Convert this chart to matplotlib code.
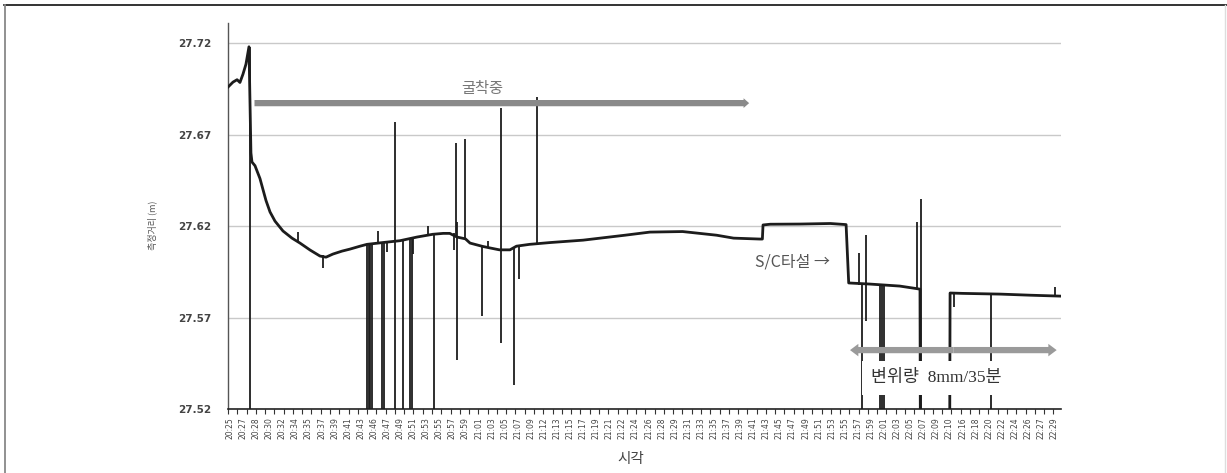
import numpy as np
import matplotlib
matplotlib.use("Agg")
import matplotlib.pyplot as plt
from matplotlib.lines import Line2D

plt.rcParams['font.family'] = ['Noto Sans CJK KR', 'DejaVu Sans']

# ---------------- data ----------------
time_labels = ["20:25", "20:27", "20:28", "20:30", "20:32", "20:34", "20:35", "20:37", "20:39", "20:41",
               "20:43", "20:46", "20:47", "20:49", "20:51", "20:53", "20:55", "20:57", "20:59", "21:01",
               "21:03", "21:05", "21:07", "21:09", "21:12", "21:13", "21:15", "21:17", "21:19", "21:21",
               "21:22", "21:24", "21:26", "21:28", "21:29", "21:31", "21:33", "21:35", "21:37", "21:39",
               "21:41", "21:43", "21:45", "21:47", "21:49", "21:51", "21:53", "21:55", "21:57", "21:59",
               "22:01", "22:03", "22:05", "22:07", "22:09", "22:10", "22:16", "22:18", "22:20", "22:22",
               "22:24", "22:26", "22:27", "22:29"]

# measured distance trend (x in category-index units)
trend_x = [-0.15, 0.23, 0.54, 0.76, 0.99, 1.22, 1.45, 1.6, 1.68, 1.91, 2.29, 2.75, 3.06, 3.44, 4.05,
           4.74, 5.35, 6.12, 6.88, 7.34, 7.87, 8.56, 9.17, 9.94, 10.47, 11.7, 13.0, 14.3, 15.5, 16.3,
           16.8, 17.35, 18.0, 18.35, 19.3, 19.9, 20.6, 21.4, 21.9, 22.9, 24.5, 27.0, 28.3, 30.2, 32.1,
           34.6, 35.9, 37.2, 38.5, 40.5, 40.7, 40.75, 41.3, 43.6, 45.9, 47.1, 47.3, 48.9, 51.2, 52.5,
           52.75, 52.8, 55.0, 55.05, 56.0, 58.9, 61.2, 63.5]
trend_y = [27.696, 27.6987, 27.700, 27.6985, 27.703, 27.7085, 27.718, 27.660, 27.655, 27.653,
           27.646, 27.634, 27.6277, 27.6227, 27.6173, 27.6134, 27.6107, 27.6069, 27.6036, 27.603,
           27.6047, 27.6063, 27.6074, 27.609, 27.610, 27.611, 27.612, 27.614, 27.6155, 27.616,
           27.616, 27.614, 27.613, 27.6107, 27.6089, 27.608, 27.607, 27.607, 27.609, 27.610,
           27.611, 27.6123, 27.6134, 27.615, 27.6167, 27.617, 27.616, 27.615, 27.6134, 27.6129,
           27.6129, 27.6206, 27.621, 27.6211, 27.6214, 27.6208, 27.5889, 27.5883, 27.5872, 27.5858,
           27.5855, 27.45, 27.45, 27.5834, 27.5832, 27.5828, 27.5822, 27.5817]

# spikes (x, lower value, upper value); 27.45 = below the plotted range
spike_x = [1.53, 1.6, 5.18, 7.09, 10.47, 10.6, 10.7, 10.85, 11.3, 11.6, 11.8, 11.98, 12.6, 13.2,
           13.75, 13.9, 14.0, 15.1, 15.6, 17.1, 17.25, 17.35, 18.0, 19.3, 19.7, 20.7, 21.7, 22.1,
           23.45, 48.1, 48.3, 48.6, 49.7, 49.85, 50.0, 52.5, 52.8, 55.05, 55.35, 58.2, 63.1]
spike_lo = [27.45, 27.655, 27.611, 27.597, 27.45, 27.45, 27.45, 27.45, 27.611, 27.45, 27.45, 27.606,
            27.45, 27.45, 27.45, 27.45, 27.605, 27.615, 27.45, 27.607, 27.614, 27.547, 27.613, 27.571,
            27.608, 27.556, 27.533, 27.591, 27.610, 27.588, 27.45, 27.568, 27.45, 27.45, 27.45,
            27.586, 27.45, 27.45, 27.576, 27.45, 27.581]
spike_hi = [27.718, 27.666, 27.617, 27.604, 27.610, 27.610, 27.610, 27.610, 27.6175, 27.611, 27.611,
            27.611, 27.677, 27.612, 27.613, 27.613, 27.613, 27.620, 27.6155, 27.616, 27.6655, 27.622,
            27.6675, 27.609, 27.612, 27.6847, 27.608, 27.609, 27.6907, 27.6054, 27.589, 27.615,
            27.588, 27.588, 27.588, 27.622, 27.635, 27.584, 27.584, 27.583, 27.5867]

y_ticks = [27.52, 27.57, 27.62, 27.67, 27.72]

# ---------------- figure ----------------
fig = plt.figure(figsize=(12.27, 4.73), dpi=100)
ax = fig.add_axes([228 / 1227, 64 / 473, 833 / 1227, 386 / 473])

ax.set_xlim(-0.153, 63.53)
ax.set_ylim(27.52, 27.731)

ax.yaxis.grid(True, color='#c9c9c9', lw=1.0)
ax.set_axisbelow(True)

ax.plot(trend_x, trend_y, color='#1c1c1c', lw=2.0, solid_joinstyle='round', zorder=3)
ax.vlines(spike_x, spike_lo, spike_hi, color='#1c1c1c', lw=1.3, zorder=3)

for s in ['top', 'right']:
    ax.spines[s].set_visible(False)
ax.spines['left'].set_color('#555555')
ax.spines['bottom'].set_color('#222222')
ax.spines['left'].set_linewidth(1.0)
ax.spines['bottom'].set_linewidth(1.2)

ax.set_yticks(y_ticks)
ax.set_yticklabels([f"{v:.2f}" for v in y_ticks], fontsize=7.5, color='#444444',
                   fontweight='bold', family=['DejaVu Sans'])
ax.tick_params(axis='y', length=0, pad=12)

ax.set_xticks(np.arange(len(time_labels)))
ax.set_xticklabels(time_labels, rotation=90, fontsize=5.5, color='#444444', family=['DejaVu Sans'])
ax.set_xticks(np.arange(-0.153, 63.6, 0.709), minor=True)
ax.tick_params(axis='x', which='major', length=0, pad=6)
ax.tick_params(axis='x', which='minor', length=3.5, width=0.8, color='#333333', direction='out')

ax.set_ylabel("측정거리 (m)", fontsize=6.5, color='#555555')
ax.yaxis.set_label_coords(-0.085, 0.477)
ax.set_xlabel("시각", fontsize=10.5, color='#444444')
ax.xaxis.set_label_coords(0.483, -0.111)

# annotations
ax.annotate('', xy=(39.9, 27.6872), xytext=(1.66, 27.6872),
            arrowprops=dict(arrowstyle='simple,head_length=0.4,head_width=0.7,tail_width=0.45',
                            color='#8a8a8a', lw=0, mutation_scale=10), zorder=4)
ax.text(19.3, 27.6954, "굴착중", fontsize=11, color='#777777', ha='center', va='center', zorder=5)

ax.text(43.0, 27.6003, "S/C타설 →", fontsize=11.5, color='#555555', ha='center', va='center', zorder=5)

mid = (47.4 + 63.2) / 2
for end in (47.4, 63.2):
    ax.annotate('', xy=(end, 27.5522), xytext=(mid, 27.5522),
                arrowprops=dict(arrowstyle='simple,head_length=0.6,head_width=0.9,tail_width=0.45',
                                color='#9a9a9a', lw=0, mutation_scale=10, shrinkA=0, shrinkB=0),
                zorder=4)

ax.text(54.0, 27.537, "변위량  8mm/35분", fontsize=12.5, color='#333333', ha='center', va='center',
        family=['Liberation Serif', 'Noto Sans CJK KR'], zorder=5,
        bbox=dict(boxstyle='square,pad=0.5', facecolor='white', edgecolor='none'))

# outer frame
fig.add_artist(Line2D([4 / 1227, 1], [1 - 5 / 473, 1 - 5 / 473], color='#111111', lw=1.2,
                      transform=fig.transFigure))
fig.add_artist(Line2D([4.5 / 1227, 4.5 / 1227], [0, 1 - 5 / 473], color='#888888', lw=1.3,
                      transform=fig.transFigure))
fig.add_artist(Line2D([1225 / 1227, 1225 / 1227], [0, 1 - 5 / 473], color='#dddddd', lw=1.0,
                      transform=fig.transFigure))

fig.savefig("out.png", dpi=100, facecolor='white')
